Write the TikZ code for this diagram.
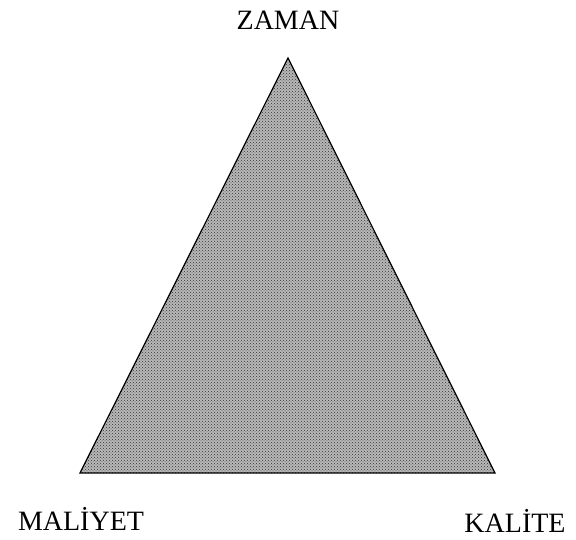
\documentclass[tikz,border=0pt]{standalone}
\usepackage{fontspec}
\setmainfont{Liberation Serif}
\usepackage{tikz}
\usetikzlibrary{patterns}

\begin{document}
\begin{tikzpicture}[x=1pt,y=-1pt,
  corner/.style={font=\fontsize{28}{33}\selectfont,inner sep=0pt},
  tri/.style={draw,line width=1.2pt,line join=miter,pattern=crosshatch dots,pattern color=black!80}
]
\useasboundingbox (0,0) rectangle (576,540);
\coordinate (top) at (288,58);
\coordinate (left) at (80,473);
\coordinate (right) at (495,473);
\fill[black!28] (top) -- (left) -- (right) -- cycle;
\path[tri] (top) -- (left) -- (right) -- cycle;

\node[corner] (zaman) at (288,20) {ZAMAN};
\node[corner] (maliyet) at (81,519) {MALİYET};
\node[corner] (kalite) at (515,521) {KALİTE};
\end{tikzpicture}
\end{document}
